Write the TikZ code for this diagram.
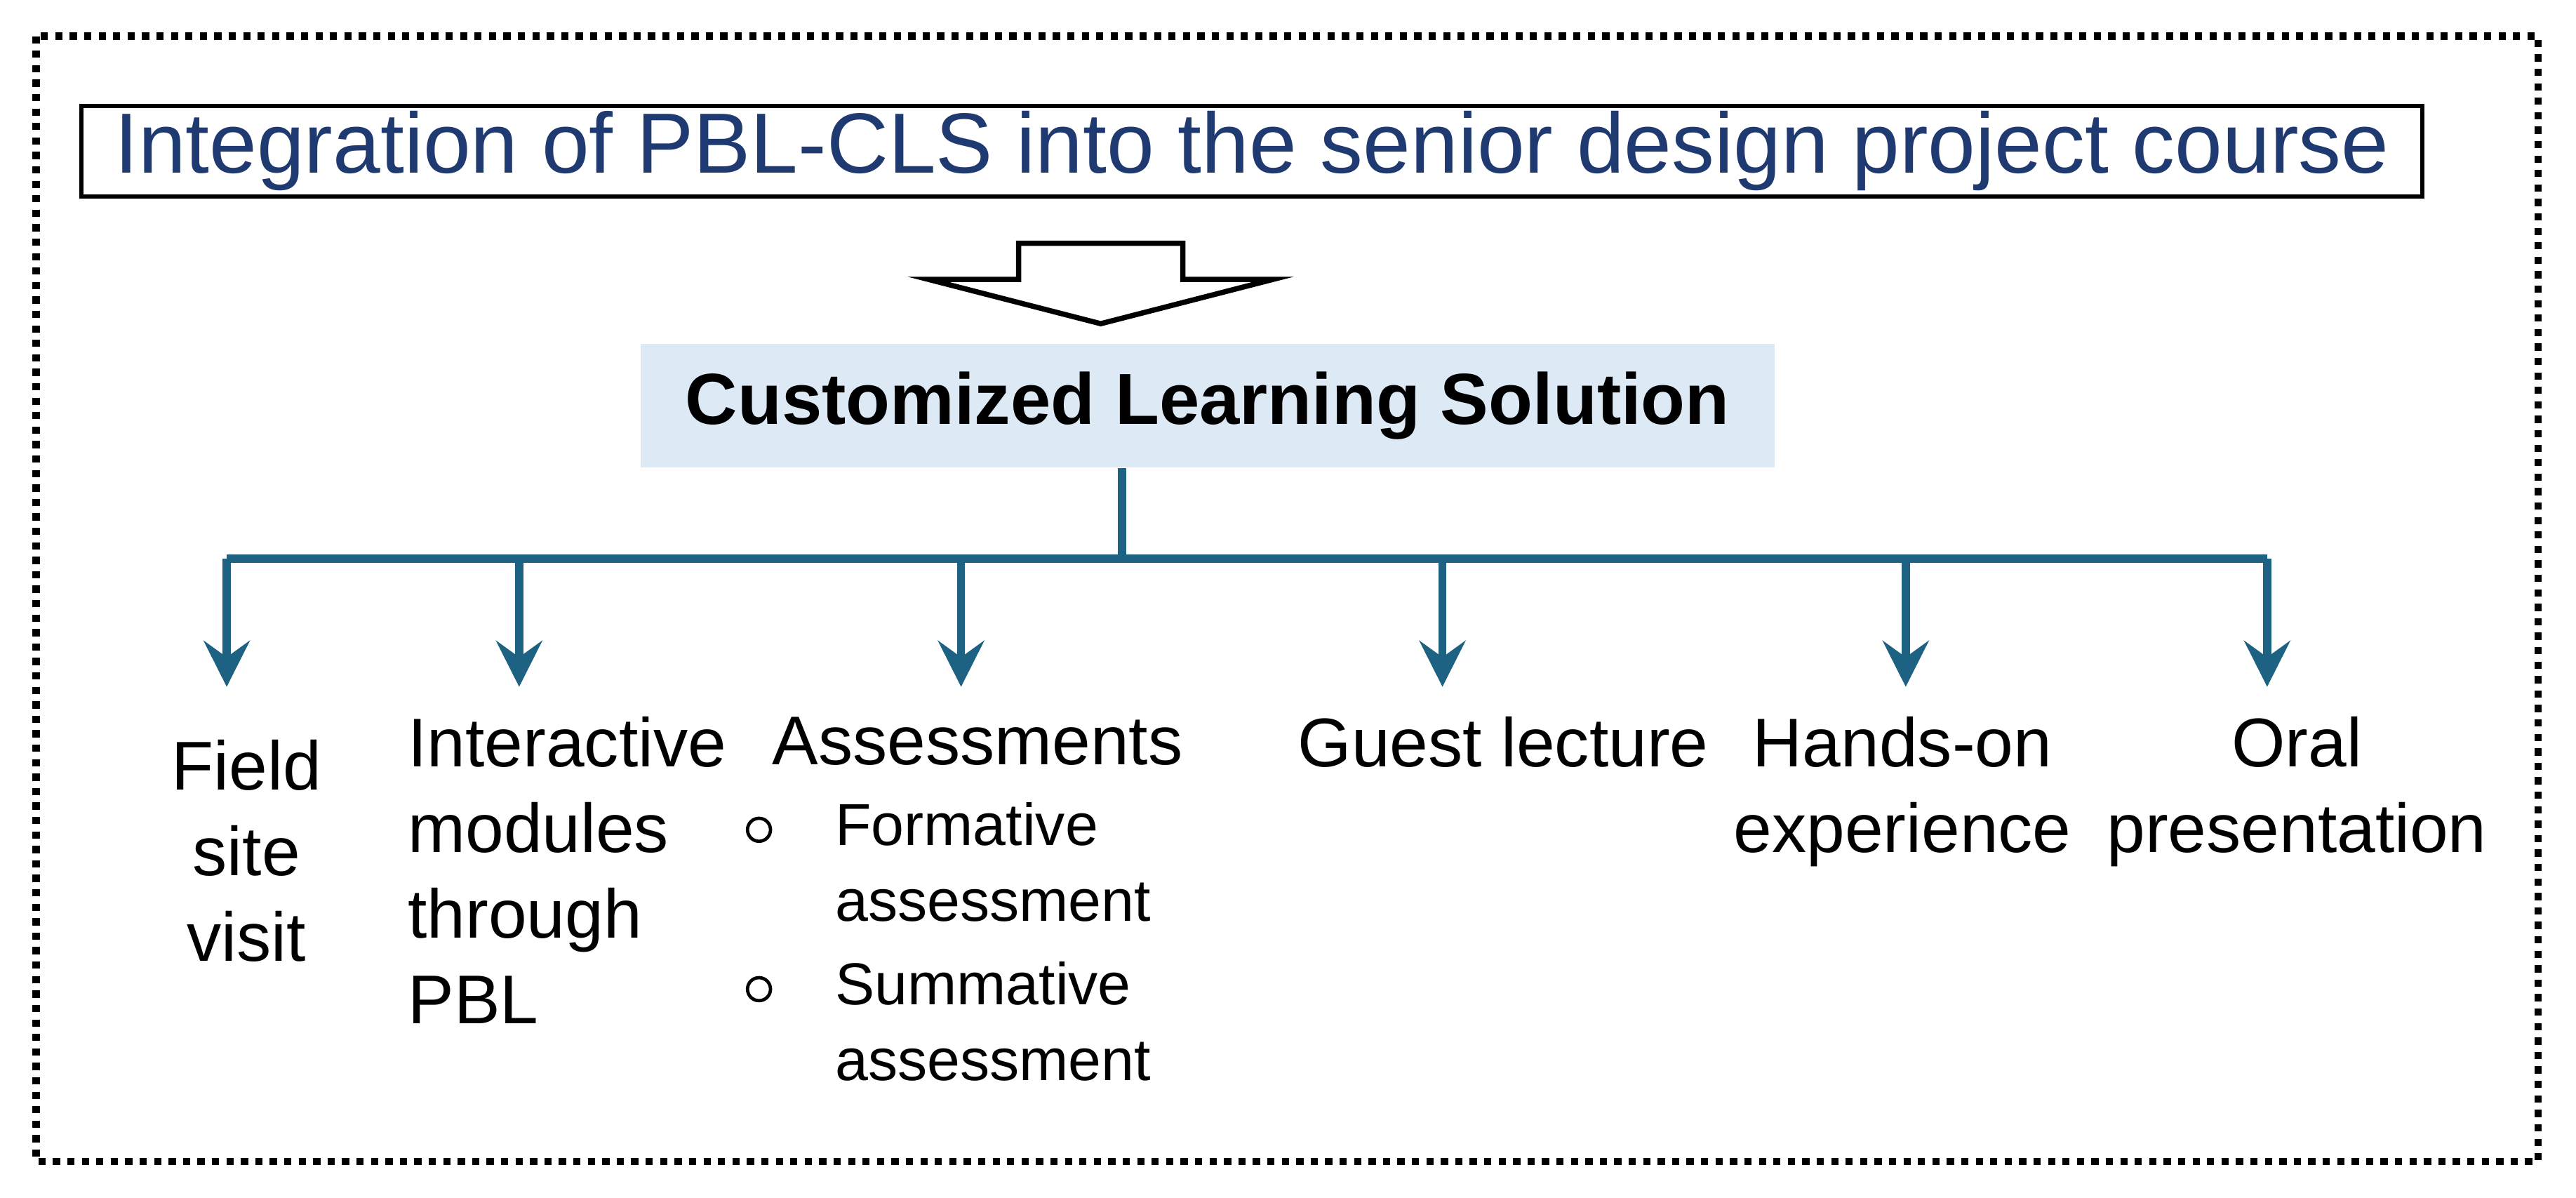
\documentclass[tikz,border=0pt]{standalone}
\usepackage{fontspec}
\setmainfont{Liberation Sans}
\usetikzlibrary{arrows.meta}
\definecolor{navy}{HTML}{1F3A70}
\definecolor{teal}{HTML}{1D6282}
\definecolor{lblue}{HTML}{DDEAF6}
\begin{document}
\begin{tikzpicture}[x=0.5pt,y=-0.5pt,
 conn/.style={teal,line width=2.5pt},
 arr/.style={conn,-{Stealth[length=14pt,width=14pt,inset=5pt]}},
 lab/.style={font=\fontsize{21}{26}\selectfont,align=center,anchor=north,inner sep=0},
 sub/.style={font=\fontsize{18}{23}\selectfont,align=left,anchor=north west,inner sep=0}]
\useasboundingbox (0,0) rectangle (1568,729);
\draw[line width=2.2pt,dash pattern=on 2.2pt off 2.2pt] (22,22) rectangle (1545,707);
\node[draw,line width=1.3pt,minimum width=712.5pt,minimum height=27.5pt,text=navy,font=\fontsize{26}{30}\selectfont,inner sep=0] (title) at (762,92) {Integration of PBL-CLS into the senior design project course};
\draw[line width=1.6pt] (620,148) -- (720,148) -- (720,170) -- (775,170) -- (670,197) -- (565,170) -- (620,170) -- cycle;
\node[fill=lblue,minimum width=345pt,minimum height=37.5pt,font=\bfseries\fontsize{22}{26}\selectfont,inner sep=0] (cls) at (735,247) {Customized Learning Solution};
\coordinate (j) at (683,340);
\coordinate (l) at (138,340);
\coordinate (r) at (1380,340);
\draw[conn] (cls.south -| j) -- (j);
\draw[conn] (l) -- (r);
\foreach \n/\x in {a/138,b/316,c/585,d/878,e/1160,f/1380}{
  \coordinate (t\n) at (\x,340);
  \coordinate (h\n) at (\x,418);
  \draw[arr] (t\n) -- (h\n);
}
\node[lab] (n1) at (150,450) {Field\\site\\visit};
\node[lab,align=left,anchor=north west] (n2) at (248,436) {Interactive\\modules\\through\\PBL};
\node[lab] (n3) at (595,436) {Assessments};
\node[draw,circle,line width=1pt,minimum size=7pt,inner sep=0] (b1) at (462,505) {};
\node[draw,circle,line width=1pt,minimum size=7pt,inner sep=0] (b2) at (462,602) {};
\node[sub] (s1) at (508,488) {Formative\\assessment};
\node[sub] (s2) at (508,585) {Summative\\assessment};
\node[lab] (n4) at (915,436) {Guest lecture};
\node[lab] (n5) at (1158,436) {Hands-on\\experience};
\node[lab] (n6) at (1398,436) {Oral\\presentation};
\end{tikzpicture}
\end{document}
